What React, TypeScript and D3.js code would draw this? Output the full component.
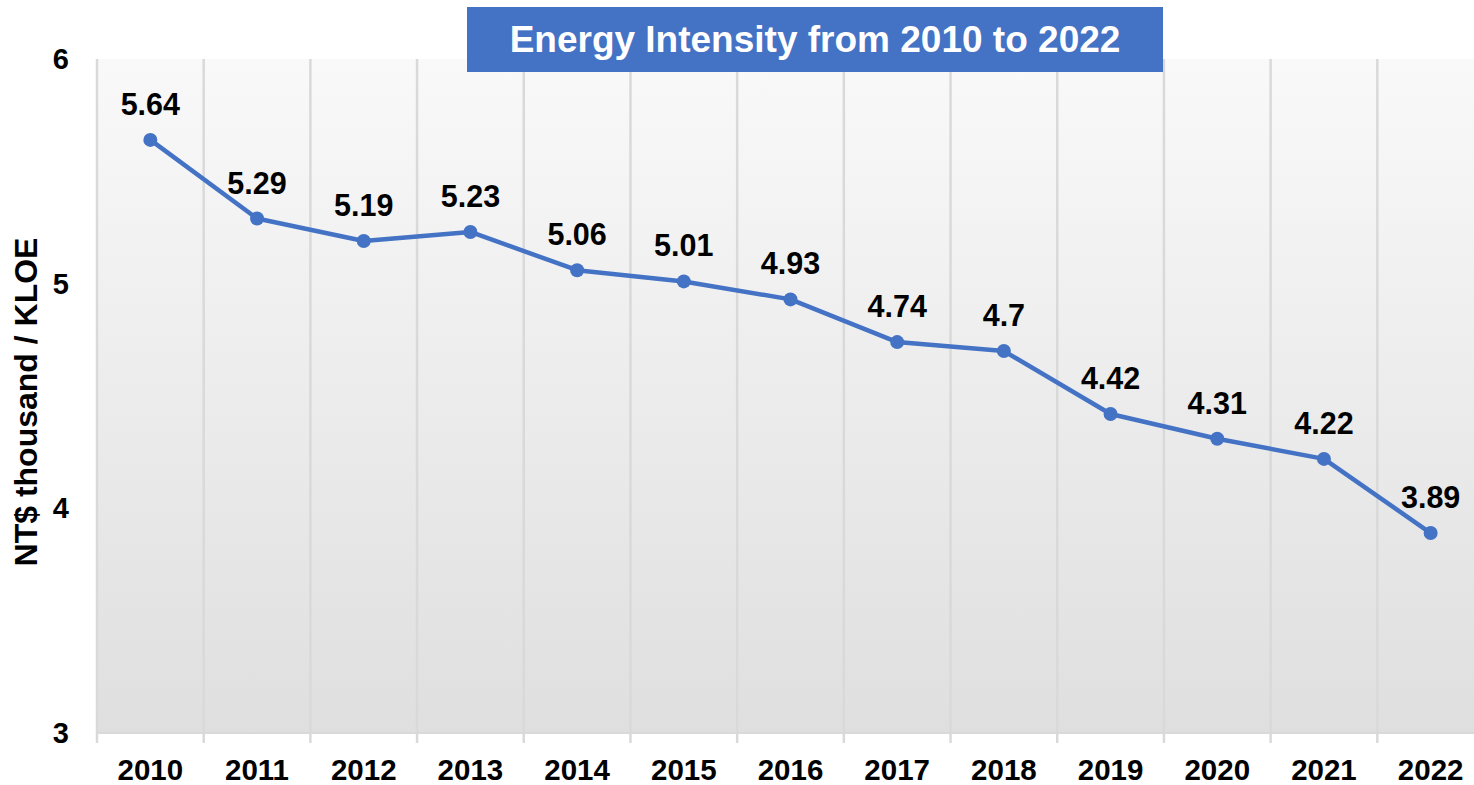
import React, { useEffect, useRef } from 'react';
import * as d3 from 'd3';

const years = ['2010', '2011', '2012', '2013', '2014', '2015', '2016', '2017', '2018', '2019', '2020', '2021', '2022'];
const intensity = [5.64, 5.29, 5.19, 5.23, 5.06, 5.01, 4.93, 4.74, 4.7, 4.42, 4.31, 4.22, 3.89];
const yTicks = [3, 4, 5, 6];
const title = 'Energy Intensity from 2010 to 2022';
const yTitle = 'NT$ thousand / KLOE';

function LineChart() {
  const ref = useRef<SVGSVGElement>(null);

  useEffect(() => {
    document.body.style.margin = '0';
    if (!ref.current) return;
    const svg = d3.select(ref.current);
    svg.selectAll('*').remove();

    const width = 1474, height = 785;
    const font = '"Liberation Sans", Arial, sans-serif';
    const left = 97, right = 1484, top = 59, bottom = 733;

    svg.attr('width', width).attr('height', height);

    // plot background gradient
    const defs = svg.append('defs');
    const grad = defs.append('linearGradient').attr('id', 'bg').attr('x1', 0).attr('y1', 0).attr('x2', 0).attr('y2', 1);
    grad.append('stop').attr('offset', '0%').attr('stop-color', '#f9f9f9');
    grad.append('stop').attr('offset', '100%').attr('stop-color', '#dfdfdf');

    const x = d3.scaleBand().domain(years).range([left, right]).padding(0);
    const y = d3.scaleLinear().domain([3, 6]).range([bottom, top]);

    svg.append('rect')
      .attr('x', left).attr('y', top)
      .attr('width', right - left).attr('height', bottom - top)
      .attr('fill', 'url(#bg)');

    // vertical gridlines at band edges
    svg.append('g').selectAll('line')
      .data(years)
      .join('line')
      .attr('x1', d => x(d)!).attr('x2', d => x(d)!)
      .attr('y1', top).attr('y2', bottom + 10)
      .attr('stroke', '#d9d9d9').attr('stroke-width', 2.5);

    svg.append('line')
      .attr('x1', left).attr('x2', right)
      .attr('y1', bottom).attr('y2', bottom)
      .attr('stroke', '#d9d9d9').attr('stroke-width', 2);

    // y tick labels
    svg.append('g').selectAll('text')
      .data(yTicks)
      .join('text')
      .attr('x', 69).attr('y', d => y(d) + 10)
      .attr('text-anchor', 'end')
      .style('font-family', font).style('font-weight', 'bold').style('font-size', '29px')
      .text(d => d);

    // x tick labels
    svg.append('g').selectAll('text')
      .data(years)
      .join('text')
      .attr('x', d => x(d)! + x.bandwidth() / 2).attr('y', 780)
      .attr('text-anchor', 'middle')
      .style('font-family', font).style('font-weight', 'bold').style('font-size', '29.5px')
      .text(d => d);

    // y axis title
    svg.append('text')
      .attr('transform', 'translate(37,402) rotate(-90)')
      .attr('text-anchor', 'middle')
      .style('font-family', font).style('font-weight', 'bold').style('font-size', '32px')
      .text(yTitle);

    const pts = years.map((yr, i) => ({ yr, v: intensity[i] }));
    const cx = (d: { yr: string }) => x(d.yr)! + x.bandwidth() / 2;

    const line = d3.line<{ yr: string; v: number }>().x(cx).y(d => y(d.v));
    svg.append('path')
      .datum(pts)
      .attr('d', line)
      .attr('fill', 'none')
      .attr('stroke', '#4472c4')
      .attr('stroke-width', 4.5)
      .attr('stroke-linejoin', 'round');

    svg.append('g').selectAll('circle')
      .data(pts)
      .join('circle')
      .attr('cx', cx).attr('cy', d => y(d.v))
      .attr('r', 7)
      .attr('fill', '#4472c4');

    // data labels
    svg.append('g').selectAll('text')
      .data(pts)
      .join('text')
      .attr('x', cx).attr('y', d => y(d.v) - 25)
      .attr('text-anchor', 'middle')
      .style('font-family', font).style('font-weight', 'bold').style('font-size', '30.5px')
      .text(d => String(d.v));

    // title box
    svg.append('rect')
      .attr('x', 467).attr('y', 7)
      .attr('width', 696).attr('height', 65)
      .attr('fill', '#4472c4');
    svg.append('text')
      .attr('x', 815).attr('y', 52)
      .attr('text-anchor', 'middle')
      .attr('fill', '#ffffff')
      .style('font-family', font).style('font-weight', 'bold').style('font-size', '37px')
      .text(title);
  }, []);

  return <svg ref={ref} style={{ display: 'block', overflow: 'hidden' }} />;
}

export default function App() {
  return <LineChart />;
}
